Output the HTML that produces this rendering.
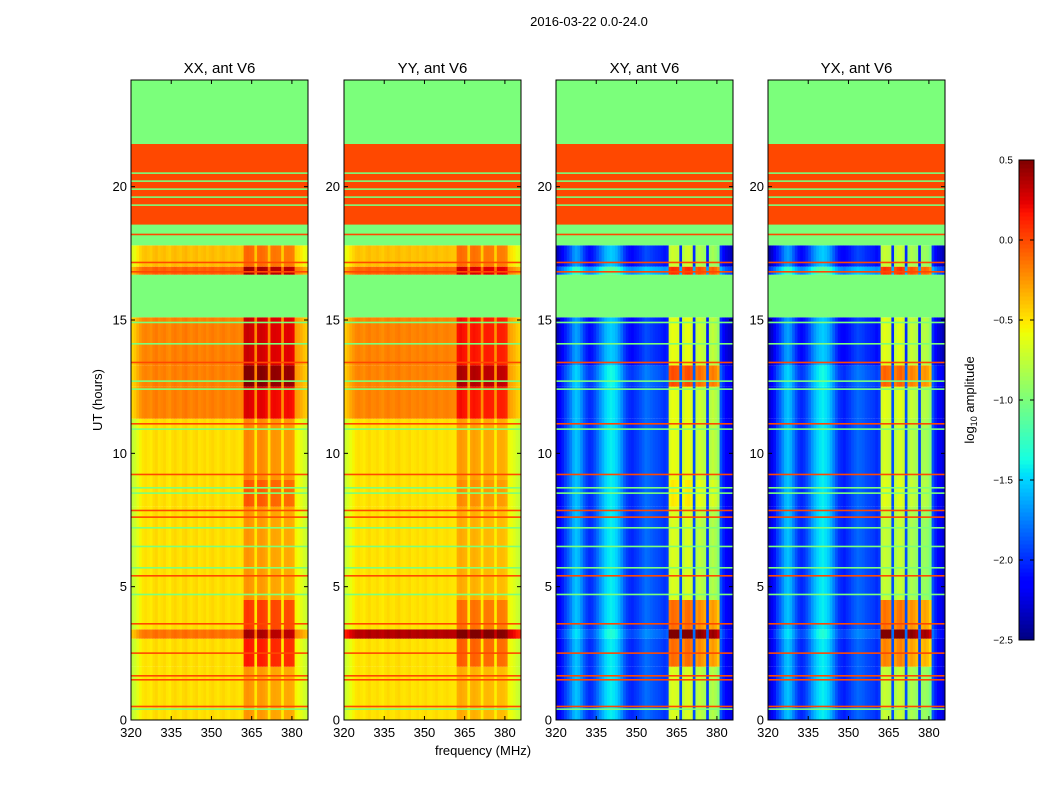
<!DOCTYPE html>
<html><head><meta charset="utf-8">
<style>
body{margin:0;background:#fff;font-family:"Liberation Sans",sans-serif;}
svg text{font-family:"Liberation Sans",sans-serif;fill:#000;}
</style></head>
<body>
<svg id="chart" width="1050" height="800" viewBox="0 0 1050 800" xmlns="http://www.w3.org/2000/svg">
<rect width="1050" height="800" fill="#fff"/>
<text x="589" y="26" font-size="13" text-anchor="middle">2016-03-22 0.0-24.0</text>
<text x="483" y="755" font-size="13" text-anchor="middle">frequency (MHz)</text>
<text x="0" y="0" font-size="13" text-anchor="middle" transform="translate(102,400) rotate(-90)">UT (hours)</text>
<text x="0" y="0" font-size="13" text-anchor="middle" transform="translate(974,400) rotate(-90)">log<tspan font-size="9" dy="3">10</tspan><tspan dy="-3"> amplitude</tspan></text>
<g id="panels"></g>
<g id="cbar"></g>
</svg>
<script>
// ---------- data ----------
const panelNames = ["XX, ant V6","YY, ant V6","XY, ant V6","YX, ant V6"];
const freqStart = 320, freqStep = 1; // 66 channels 320..385
const xTicks = [320,335,350,365,380];
const yTicks = [0,5,10,15,20];
const cbTicks = [0.5,0.0,-0.5,-1.0,-1.5,-2.0,-2.5];
const cbTickLabels = ["0.5","0.0","\u22120.5","\u22121.0","\u22121.5","\u22122.0","\u22122.5"];
// column base amplitude profiles (66 channels)
const colXX = [-0.75,-0.7,-0.62,-0.55,-0.5,-0.48,-0.5,-0.52,-0.47,-0.45,-0.5,-0.48,-0.46,-0.5,-0.52,-0.47,-0.45,-0.48,-0.5,-0.46,-0.44,-0.48,-0.5,-0.47,-0.45,-0.5,-0.48,-0.46,-0.5,-0.47,-0.45,-0.48,-0.5,-0.47,-0.45,-0.48,-0.5,-0.47,-0.46,-0.48,-0.5,-0.48,-0.4,-0.38,-0.4,-0.42,-0.5,-0.42,-0.4,-0.42,-0.45,-0.5,-0.45,-0.44,-0.45,-0.46,-0.52,-0.46,-0.45,-0.46,-0.48,-0.55,-0.58,-0.62,-0.68,-0.72];
const colYY = [-0.72,-0.66,-0.6,-0.55,-0.5,-0.48,-0.5,-0.52,-0.48,-0.46,-0.5,-0.49,-0.47,-0.5,-0.52,-0.48,-0.46,-0.49,-0.5,-0.47,-0.45,-0.49,-0.5,-0.48,-0.46,-0.5,-0.49,-0.47,-0.5,-0.48,-0.46,-0.49,-0.5,-0.48,-0.46,-0.49,-0.5,-0.48,-0.47,-0.49,-0.5,-0.5,-0.42,-0.4,-0.42,-0.44,-0.52,-0.44,-0.42,-0.44,-0.46,-0.52,-0.46,-0.45,-0.46,-0.47,-0.53,-0.47,-0.46,-0.47,-0.5,-0.56,-0.6,-0.64,-0.7,-0.74];
const colXY = [-2.25,-2.15,-2.05,-1.95,-1.85,-1.75,-1.62,-1.55,-1.6,-1.72,-1.85,-1.95,-2.0,-1.98,-1.9,-1.8,-1.7,-1.6,-1.5,-1.45,-1.42,-1.45,-1.5,-1.6,-1.72,-1.85,-1.95,-2.0,-2.02,-1.98,-1.95,-1.9,-1.85,-1.8,-1.82,-1.85,-1.88,-1.9,-1.92,-1.95,-1.98,-1.95,-0.85,-0.8,-0.82,-0.85,-1.9,-0.9,-0.82,-0.8,-0.85,-1.9,-0.95,-0.9,-0.95,-1.0,-1.95,-1.0,-0.95,-1.0,-1.1,-1.9,-2.05,-2.15,-2.2,-2.25];
const colYX = [-2.3,-2.2,-2.08,-1.95,-1.85,-1.72,-1.6,-1.55,-1.62,-1.75,-1.88,-1.98,-2.02,-1.98,-1.9,-1.8,-1.68,-1.58,-1.5,-1.45,-1.42,-1.46,-1.52,-1.62,-1.75,-1.88,-1.98,-2.02,-2.05,-2.0,-1.96,-1.9,-1.86,-1.82,-1.84,-1.86,-1.9,-1.92,-1.94,-1.96,-2.0,-1.96,-0.88,-0.82,-0.85,-0.88,-1.9,-0.92,-0.85,-0.82,-0.88,-1.9,-0.98,-0.92,-0.96,-1.02,-1.95,-1.02,-0.98,-1.02,-1.12,-1.9,-2.05,-2.15,-2.2,-2.28];
// RFI mask per channel (1 = RFI-affected channel)
const rfiMask = [0,0,0,0,0,0,0,0,0,0,0,0,0,0,0,0,0,0,0,0,0,0,0,0,0,0,0,0,0,0,0,0,0,0,0,0,0,0,0,0,0,0,1,1,1,1,0,1,1,1,1,0,1,1,1,1,0,1,1,1,1,0,0,0,0,0];
// time segments (hours)
const segStart = [0,2.0,3.05,3.4,4.5,8.0,9.0,11.3,12.5,13.3,15.1,16.7,17.0,17.8,18.6,21.6];
const segEnd   = [2.0,3.05,3.4,4.5,8.0,9.0,11.3,12.5,13.3,15.1,16.7,17.0,17.8,18.6,21.6,24];
const segFlag  = [0,0,0,0,0,0,0,0,0,0,1,0,0,1,2,1]; // 1 green flag, 2 orange flag
const baseXX = [0,0,0.35,0,0,0,0,0.3,0.3,0.3,0,0.4,0.1,0,0,0];
const rfiXX  = [0.15,0.55,0.45,0.45,0.15,0.35,0.2,0.35,0.6,0.4,0,0.4,0.2,0,0,0];
const baseYY = [0,0,0.85,0,0,0,0,0.3,0.3,0.3,0,0.4,0.1,0,0,0];
const rfiYY  = [0.1,0.35,0.1,0.3,0.1,0.2,0.15,0.3,0.5,0.3,0,0.3,0.2,0,0,0];
const baseXY = [0,0,0.1,0,0,0,0,0,0.05,-0.1,0,0.3,-0.1,0,0,0];
const rfiXY  = [0.15,0.7,1.3,0.7,0.15,0.3,0.2,0.2,0.75,0.3,0,0.6,0.2,0,0,0];
const baseYX = [0,0,0.1,0,0,0,0,0,0.05,-0.1,0,0.3,-0.1,0,0,0];
const rfiYX  = [0.1,0.65,1.3,0.7,0.1,0.2,0.15,0.2,0.7,0.3,0,0.6,0.2,0,0,0];
// thin flagged lines (hours, kind: 1 green, 2 orange)
const lineTimes = [0.4,0.5,1.5,1.65,2.5,3.6,4.7,5.4,5.7,6.5,7.2,7.6,7.85,8.5,8.7,9.2,10.9,11.1,12.4,12.7,13.4,14.1,14.9,16.8,17.15,18.2,18.6,19.3,19.6,19.9,20.2,20.5];
const lineKinds = [1,2,2,2,2,2,1,2,1,1,1,2,2,1,1,2,1,2,1,1,2,1,1,2,2,2,2,1,1,1,1,1];

// ---------- rendering ----------
const NS = "http://www.w3.org/2000/svg";
const panelX = [131,344,556,768], panelW = 177, plotTop = 80, plotBottom = 720;
const vmin = -2.5, vmax = 0.5, fmin = 320, fmax = 386, tmax = 24;
const cols = [colXX,colYY,colXY,colYX];
const bases = [baseXX,baseYY,baseXY,baseYX];
const rfis = [rfiXX,rfiYY,rfiXY,rfiYX];
function interp(n, pts){for(let i=0;i<pts.length-1;i++){const a=pts[i][0],va=pts[i][1],b=pts[i+1][0],vb=pts[i+1][1];if(n>=a&&n<=b)return va+(vb-va)*(n-a)/(b-a);}return n<pts[0][0]?pts[0][1]:pts[pts.length-1][1];}
function jet(v){let n=(v-vmin)/(vmax-vmin);n=Math.max(0,Math.min(1,n));
 const r=interp(n,[[0,0],[0.35,0],[0.66,1],[0.89,1],[1,0.5]]);
 const g=interp(n,[[0,0],[0.125,0],[0.375,1],[0.64,1],[0.91,0],[1,0]]);
 const b=interp(n,[[0,0.5],[0.11,1],[0.34,1],[0.65,0],[1,0]]);
 return "rgb("+Math.round(r*255)+","+Math.round(g*255)+","+Math.round(b*255)+")";}
const flagVal = [null,-1.0,0.0];
function el(tag,attrs,parent){const e=document.createElementNS(NS,tag);for(const k in attrs)e.setAttribute(k,attrs[k]);parent.appendChild(e);return e;}
const panels=document.getElementById("panels");
for(let p=0;p<4;p++){
  const x0=panelX[p];
  const xs=f=>x0+(f-fmin)/(fmax-fmin)*panelW;
  const ys=t=>plotBottom-t/tmax*(plotBottom-plotTop);
  const g=el("g",{},panels);
  
  
  for(let s=0;s<segStart.length;s++){
    const y1=ys(segEnd[s]),y2=ys(segStart[s]);
    if(segFlag[s]){
      const r=el("rect",{x:x0,y:y1,width:panelW,height:y2-y1,fill:jet(flagVal[segFlag[s]])},g);
      
      
      continue;
    }
    for(let c=0;c<cols[p].length;c++){
      const f=freqStart+c*freqStep;
      const v=cols[p][c]+bases[p][s]+rfiMask[c]*rfis[p][s];
      const xa=xs(f),xb=xs(f+freqStep);
      const r=el("rect",{x:xa.toFixed(2),y:y1.toFixed(2),width:(xb-xa+0.4).toFixed(2),height:(y2-y1).toFixed(2),fill:jet(v)},g);
      
      
    }
  }
  for(let i=0;i<lineTimes.length;i++){
    const y=ys(lineTimes[i]);
    const r=el("rect",{x:x0,y:(y-1).toFixed(2),width:panelW,height:1.6,fill:jet(flagVal[lineKinds[i]])},g);
    
    
  }
  const fr=el("rect",{x:x0,y:plotTop,width:panelW,height:plotBottom-plotTop,fill:"none",stroke:"#000","stroke-width":1},g);
  
  
  const tt=el("text",{x:x0+panelW/2,y:73,"font-size":15,"text-anchor":"middle"},g);
  tt.textContent=panelNames[p];
  
  
  xTicks.forEach(f=>{const x=xs(f);
    el("line",{x1:x,x2:x,y1:plotBottom,y2:plotBottom-4,stroke:"#000"},g);
    el("line",{x1:x,x2:x,y1:plotTop,y2:plotTop+4,stroke:"#000"},g);
    const t=el("text",{x:x,y:737,"font-size":13,"text-anchor":"middle"},g);t.textContent=f;
    
    });
  yTicks.forEach(v=>{const y=ys(v);
    el("line",{x1:x0,x2:x0+4,y1:y,y2:y,stroke:"#000"},g);
    el("line",{x1:x0+panelW,x2:x0+panelW-4,y1:y,y2:y,stroke:"#000"},g);
    const t=el("text",{x:x0-4,y:y+4.5,"font-size":13,"text-anchor":"end"},g);t.textContent=v;
    
    });
}
// colorbar
const cb=document.getElementById("cbar");


const cbTop=160,cbBot=640,cbX=1019,cbW=15,N=120;
for(let i=0;i<N;i++){const v=vmin+(i+0.5)/N*(vmax-vmin);
  const y=cbBot-(i+1)/N*(cbBot-cbTop);
  el("rect",{x:cbX,y:y.toFixed(2),width:cbW,height:((cbBot-cbTop)/N+0.5).toFixed(2),fill:jet(v)},cb);}
el("rect",{x:cbX,y:cbTop,width:cbW,height:cbBot-cbTop,fill:"none",stroke:"#000"},cb);
cbTicks.forEach((v,i)=>{const y=cbBot-(v-vmin)/(vmax-vmin)*(cbBot-cbTop);
  el("line",{x1:cbX,x2:cbX+4,y1:y,y2:y,stroke:"#000"},cb);
  el("line",{x1:cbX+cbW-4,x2:cbX+cbW,y1:y,y2:y,stroke:"#000"},cb);
  const t=el("text",{x:1013,y:y+3.5,"font-size":10,"text-anchor":"end"},cb);t.textContent=cbTickLabels[i];
  
  });
</script>
</body></html>
